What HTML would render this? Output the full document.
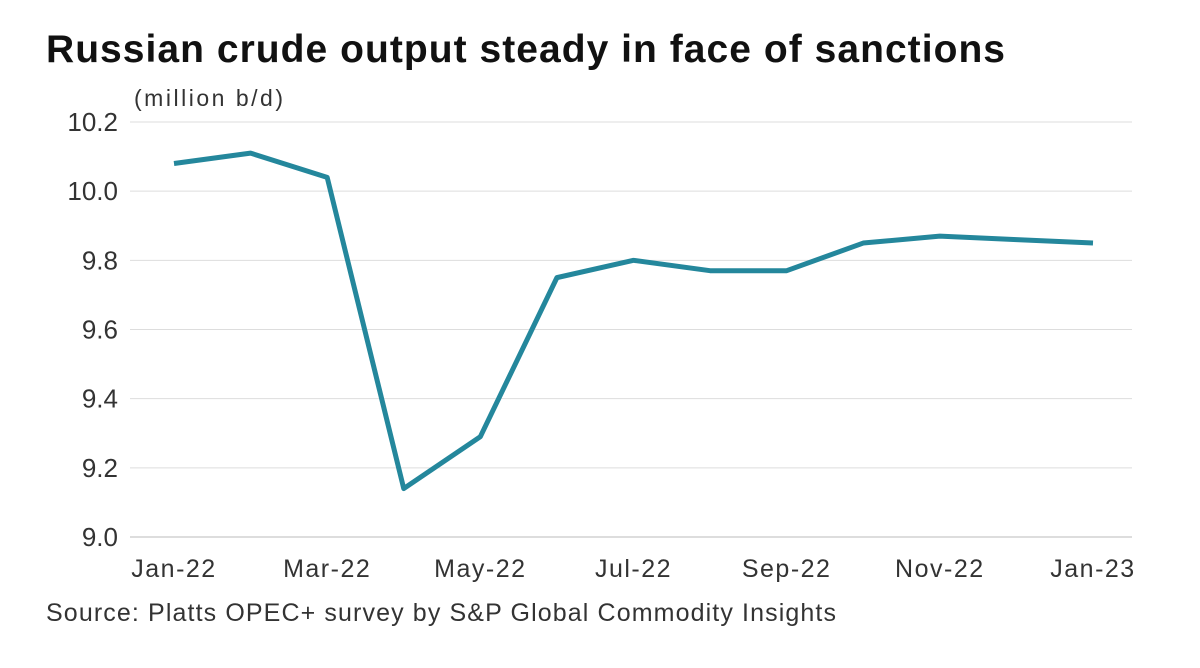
<!DOCTYPE html>
<html><head><meta charset="utf-8"><style>
body{margin:0;background:#fff;width:1200px;height:663px;overflow:hidden;font-family:"Liberation Sans",sans-serif}
</style></head><body>
<svg width="1200" height="663" xmlns="http://www.w3.org/2000/svg">
<text x="46" y="62" font-size="39" font-weight="bold" fill="#111" textLength="959" lengthAdjust="spacing">Russian crude output steady in face of sanctions</text>
<text x="134" y="106" font-size="23" fill="#333" textLength="149" lengthAdjust="spacing">(million b/d)</text>
<g id="grid"></g><g id="yt"></g><g id="xt"></g>
<path id="line" fill="none" stroke="#24879c" stroke-width="5" stroke-linejoin="round"/>
<text x="46" y="621" font-size="25" fill="#333" textLength="790" lengthAdjust="spacing">Source: Platts OPEC+ survey by S&amp;P Global Commodity Insights</text>
</svg>
<script>
const months=["Jan-22","Feb-22","Mar-22","Apr-22","May-22","Jun-22","Jul-22","Aug-22","Sep-22","Oct-22","Nov-22","Dec-22","Jan-23"];
const values=[10.08,10.11,10.04,9.14,9.29,9.75,9.80,9.77,9.77,9.85,9.87,9.86,9.85];
const yTicks=[9.0,9.2,9.4,9.6,9.8,10.0,10.2];
const xLabelIdx=[0,2,4,6,8,10,12];
const NS="http://www.w3.org/2000/svg";
const x=i=>174+i*(1093-174)/12;
const y=v=>537-(v-9.0)/1.2*415;
const grid=document.getElementById('grid'),yt=document.getElementById('yt'),xt=document.getElementById('xt');
yTicks.forEach(t=>{
 const l=document.createElementNS(NS,'line');
 l.setAttribute('x1',130);l.setAttribute('x2',1132);l.setAttribute('y1',y(t));l.setAttribute('y2',y(t));
 l.setAttribute('stroke',t===9.0?'#bbb':'#ddd');l.setAttribute('stroke-width',1);
 
 
 grid.appendChild(l);
 const tx=document.createElementNS(NS,'text');
 tx.setAttribute('x',118);tx.setAttribute('y',y(t)+9);tx.setAttribute('text-anchor','end');
 tx.setAttribute('font-size',26);tx.setAttribute('fill','#333');tx.textContent=t.toFixed(1);
 
 
 yt.appendChild(tx);
});
xLabelIdx.forEach(i=>{
 const tx=document.createElementNS(NS,'text');
 tx.setAttribute('x',x(i));tx.setAttribute('y',577);tx.setAttribute('text-anchor','middle');
 tx.setAttribute('font-size',25);tx.setAttribute('letter-spacing',1.5);tx.setAttribute('fill','#333');tx.textContent=months[i];
 
 
 xt.appendChild(tx);
});
document.getElementById('line').setAttribute('d',values.map((v,i)=>(i?'L':'M')+x(i)+','+y(v)).join(''));
</script>
</body></html>
